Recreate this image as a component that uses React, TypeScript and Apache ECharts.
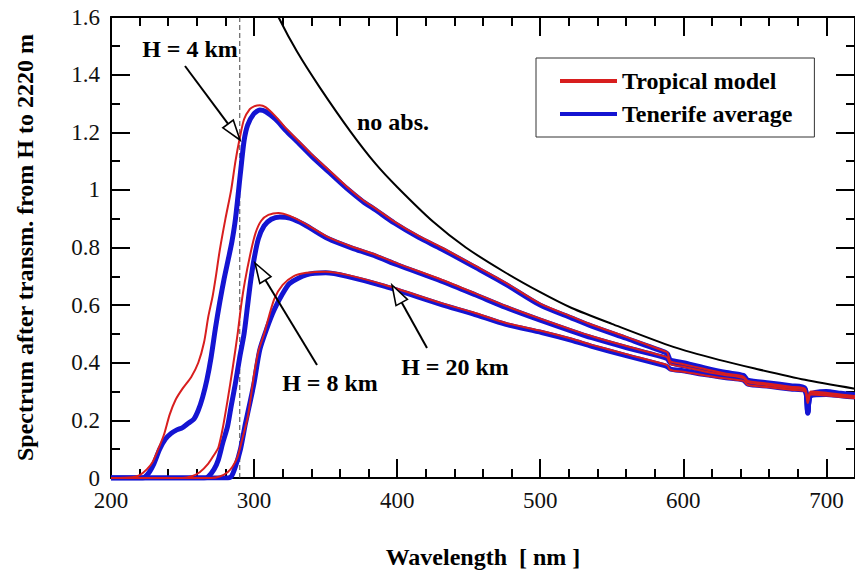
import React, { useEffect, useRef } from "react";
import * as echarts from "echarts";

type P = [number, number];

const xMin = 200;
const xMax = 720;
const yMin = 0;
const yMax = 1.6;
const dashedWavelength = 290;

const noAbs: P[] = [[300,1.8],[310,1.68],[317,1.6],[330,1.48],[346,1.355],[367,1.205],[385,1.09],[400,1.01],[425,0.89],[448,0.8],[475,0.715],[500,0.645],[522,0.59],[550,0.535],[593,0.455],[625,0.41],[650,0.38],[685,0.341],[720,0.31]];

const tropical4: P[] = [[200,0],[215,0.003],[220,0.01],[225,0.03],[229,0.055],[233,0.1],[237,0.15],[241,0.22],[245,0.27],[250,0.31],[256,0.35],[261,0.4],[265,0.47],[268,0.56],[271,0.63],[273,0.69],[276,0.79],[280,0.9],[284,1.0],[287,1.1],[290,1.18],[293,1.245],[297,1.28],[300,1.29],[304,1.294],[308,1.287],[315,1.255],[322,1.215],[330,1.175],[340,1.125],[352,1.07],[365,1.01],[376,0.965],[385,0.935],[398,0.89],[415,0.84],[431,0.8],[455,0.735],[476,0.677],[500,0.605],[522,0.56],[536,0.532],[560,0.49],[587,0.44],[589,0.435],[591,0.405],[600,0.395],[615,0.378],[630,0.362],[642,0.352],[645,0.337],[660,0.327],[675,0.317],[685,0.31],[687,0.27],[689,0.3],[700,0.296],[710,0.29],[720,0.285]];

const tenerife4: P[] = [[200,0],[222,0],[226,0.015],[230,0.05],[234,0.1],[238,0.135],[242,0.155],[246,0.167],[250,0.175],[254,0.19],[258,0.205],[261,0.235],[264,0.28],[267,0.34],[270,0.42],[273,0.52],[276,0.61],[279,0.69],[282,0.76],[284.5,0.82],[287,0.9],[290.5,1.06],[293,1.17],[295.5,1.225],[300,1.265],[304,1.277],[308,1.272],[315,1.245],[322,1.207],[330,1.168],[340,1.118],[352,1.063],[365,1.004],[376,0.96],[385,0.93],[398,0.885],[415,0.835],[431,0.795],[455,0.73],[476,0.672],[500,0.6],[522,0.555],[536,0.527],[560,0.485],[587,0.437],[589,0.43],[591,0.41],[600,0.4],[615,0.382],[630,0.366],[642,0.356],[645,0.34],[660,0.33],[675,0.32],[685,0.312],[687,0.23],[689,0.29],[700,0.3],[710,0.294],[720,0.289]];

const tropical8: P[] = [[200,0],[250,0],[256,0.005],[262,0.02],[268,0.05],[272,0.08],[275,0.105],[278,0.17],[281.5,0.27],[285,0.38],[288.5,0.5],[291,0.6],[293.5,0.68],[297.5,0.78],[301,0.85],[305,0.893],[310,0.913],[317,0.92],[325,0.91],[335,0.885],[352,0.835],[370,0.8],[385,0.775],[400,0.745],[431,0.688],[455,0.64],[476,0.597],[500,0.553],[522,0.515],[536,0.492],[560,0.458],[587,0.422],[589,0.417],[591,0.395],[600,0.386],[615,0.37],[630,0.357],[642,0.347],[645,0.332],[660,0.322],[675,0.312],[685,0.306],[687,0.265],[689,0.296],[700,0.291],[710,0.286],[720,0.281]];

const tenerife8: P[] = [[200,0],[265,0],[268,0.005],[272,0.03],[275,0.063],[278,0.12],[281.5,0.18],[284,0.25],[287,0.33],[290,0.42],[293,0.5],[295.5,0.6],[297.5,0.68],[300,0.76],[303,0.83],[307,0.875],[312,0.898],[318,0.906],[325,0.902],[335,0.88],[352,0.83],[370,0.795],[385,0.77],[400,0.74],[431,0.683],[455,0.635],[476,0.592],[500,0.548],[522,0.51],[536,0.487],[560,0.453],[587,0.418],[589,0.413],[591,0.4],[600,0.39],[615,0.374],[630,0.361],[642,0.351],[645,0.336],[660,0.326],[675,0.316],[685,0.309],[687,0.228],[689,0.287],[700,0.295],[710,0.29],[720,0.285]];

const tropical20: P[] = [[200,0],[270,0],[276,0.005],[281.5,0.02],[285,0.04],[288.5,0.074],[292,0.14],[295.5,0.21],[298,0.29],[300,0.36],[303,0.44],[307,0.5],[314,0.62],[320,0.67],[327.5,0.7],[336.5,0.712],[350,0.716],[365,0.705],[391.5,0.67],[431,0.607],[453,0.575],[476,0.538],[501,0.51],[522,0.483],[536,0.462],[560,0.43],[587,0.395],[589,0.39],[591,0.375],[600,0.369],[615,0.356],[630,0.345],[642,0.337],[645,0.323],[660,0.315],[675,0.306],[685,0.3],[687,0.26],[689,0.29],[700,0.286],[710,0.281],[720,0.277]];

const tenerife20: P[] = [[200,0],[280,0],[284,0.005],[287,0.04],[290.5,0.1],[294,0.19],[297.5,0.27],[300,0.33],[304,0.445],[309,0.52],[314,0.583],[320,0.64],[325,0.676],[336.5,0.705],[350,0.712],[365,0.7],[391.5,0.665],[431,0.602],[453,0.57],[476,0.533],[501,0.505],[522,0.478],[536,0.457],[560,0.425],[587,0.39],[589,0.386],[591,0.378],[600,0.372],[615,0.359],[630,0.348],[642,0.34],[645,0.326],[660,0.318],[675,0.309],[685,0.303],[687,0.225],[689,0.285],[700,0.29],[710,0.285],[720,0.281]];

const legendNames = ["Tropical model", "Tenerife average"];
const annotationTexts = ["H = 4 km", "H = 8 km", "H = 20 km", "no abs."];

const RED = "#d81e1e";
const BLUE = "#1414d2";
const FONT = "Liberation Serif";

function arrow(sx: number, sy: number, tx: number, ty: number) {
  const dx = tx - sx;
  const dy = ty - sy;
  const len = Math.hypot(dx, dy);
  const ux = dx / len;
  const uy = dy / len;
  const nx = -uy;
  const ny = ux;
  const L = 20;
  const W = 6.5;
  const bx = tx - ux * L;
  const by = ty - uy * L;
  return [
    { type: "line", shape: { x1: sx, y1: sy, x2: bx, y2: by }, style: { stroke: "#000", lineWidth: 2 }, z: 100 },
    {
      type: "polygon",
      shape: { points: [[tx, ty], [bx + nx * W, by + ny * W], [bx - nx * W, by - ny * W]] },
      style: { fill: "#fff", stroke: "#000", lineWidth: 1.6 },
      z: 100,
    },
  ];
}

function textEl(text: string, x: number, y: number) {
  return {
    type: "text",
    x,
    y,
    z: 100,
    style: {
      text,
      fill: "#000",
      fontFamily: FONT,
      fontWeight: "bold",
      fontSize: 24,
      align: "center",
      verticalAlign: "middle",
    },
  };
}

function lineSeries(name: string, data: P[], color: string, width: number) {
  return {
    name,
    type: "line",
    data,
    showSymbol: false,
    symbol: "none",
    smooth: 0.25,
    silent: true,
    lineStyle: { color, width, join: "round" },
    itemStyle: { color },
  };
}

export default function App() {
  const ref = useRef<HTMLDivElement>(null);
  useEffect(() => {
    if (!ref.current) return;
    const chart = echarts.init(ref.current, null, { renderer: "svg" });
    const axisCommon = {
      type: "value",
      axisLine: { show: true, onZero: false, lineStyle: { color: "#000", width: 2 } },
      axisTick: { show: true, inside: true, length: 19, lineStyle: { color: "#000", width: 2 } },
      minorTick: { show: true, length: 9, lineStyle: { color: "#000", width: 2 } },
      splitLine: { show: false },
    };
    const labelStyle = { color: "#111", fontFamily: FONT, fontSize: 23 };
    chart.setOption({
      animation: false,
      backgroundColor: "#fff",
      textStyle: { fontFamily: FONT },
      grid: { left: 111, top: 17, width: 755, height: 461, containLabel: false },
      legend: {
        left: 536,
        top: 58,
        orient: "vertical",
        data: legendNames.map((n) => ({ name: n, icon: "rect" })),
        itemWidth: 57,
        itemHeight: 4,
        itemGap: 9,
        itemTextGap: 16,
        padding: [11, 22, 11, 24],
        borderColor: "#333",
        borderWidth: 1,
        backgroundColor: "#fff",
        selectedMode: false,
        textStyle: { fontFamily: FONT, fontWeight: "bold", fontSize: 24, color: "#000", lineHeight: 24 },
      },
      xAxis: [
        {
          ...axisCommon,
          min: xMin,
          max: xMax,
          interval: 100,
          minorTick: { ...axisCommon.minorTick, splitNumber: 5 },
          axisLabel: { ...labelStyle, margin: 11, showMaxLabel: false },
          name: "Wavelength  [ nm ]",
          nameLocation: "middle",
          nameGap: 67,
          nameTextStyle: { fontFamily: FONT, fontWeight: "bold", fontSize: 24, color: "#000" },
        },
        {
          ...axisCommon,
          position: "top",
          min: xMin,
          max: xMax,
          interval: 100,
          minorTick: { ...axisCommon.minorTick, splitNumber: 5 },
          axisLabel: { show: false },
        },
      ],
      yAxis: [
        {
          ...axisCommon,
          min: yMin,
          max: yMax,
          interval: 0.2,
          minorTick: { ...axisCommon.minorTick, splitNumber: 2 },
          axisLabel: { ...labelStyle, margin: 11 },
          name: "Spectrum after transm. from H to 2220 m",
          nameLocation: "middle",
          nameGap: 74,
          nameTextStyle: { fontFamily: FONT, fontWeight: "bold", fontSize: 24, color: "#000" },
        },
        {
          ...axisCommon,
          position: "right",
          min: yMin,
          max: yMax,
          interval: 0.2,
          minorTick: { ...axisCommon.minorTick, splitNumber: 2 },
          axisLabel: { show: false },
        },
      ],
      series: [
        {
          name: "dashed",
          type: "line",
          data: [[dashedWavelength, yMin], [dashedWavelength, yMax]],
          symbol: "none",
          silent: true,
          lineStyle: { color: "#444", width: 1, type: [5, 3] },
        },
        lineSeries("no abs.", noAbs, "#000", 2),
        lineSeries(legendNames[1], tenerife4, BLUE, 5),
        lineSeries(legendNames[1], tenerife8, BLUE, 5),
        lineSeries(legendNames[1], tenerife20, BLUE, 5),
        lineSeries(legendNames[0], tropical4, RED, 2),
        lineSeries(legendNames[0], tropical8, RED, 2),
        lineSeries(legendNames[0], tropical20, RED, 2),
      ],
      graphic: [
        textEl(annotationTexts[0], 190, 49),
        textEl(annotationTexts[1], 330, 383),
        textEl(annotationTexts[2], 455, 367),
        textEl(annotationTexts[3], 393, 122),
        ...arrow(185, 66, 240, 140),
        ...arrow(317, 365, 255, 263),
        ...arrow(427, 348, 392, 285),
      ],
    });
    return () => chart.dispose();
  }, []);
  return (
    <div
      ref={ref}
      style={{ position: "absolute", left: 0, top: 0, width: 855, height: 574, background: "#fff" }}
    />
  );
}
